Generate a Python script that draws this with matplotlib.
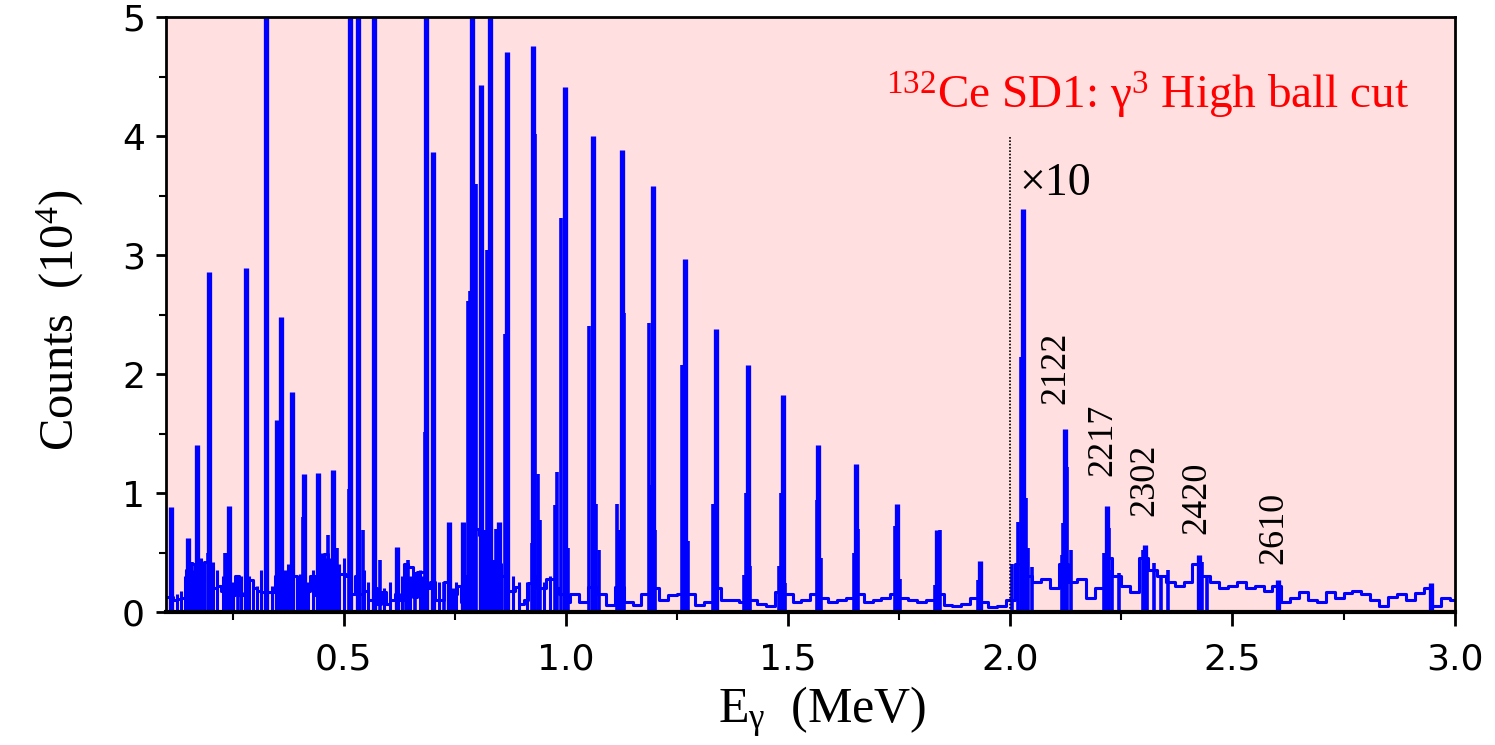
import matplotlib
matplotlib.use("Agg")
import matplotlib.pyplot as plt
from matplotlib.ticker import MultipleLocator

plt.rcParams['mathtext.default'] = 'regular'

# 132Ce SD1 gamma spectrum, counts in units of 1e4 (above 2.0 MeV shown x10)
# background continuum (read every 0.01 MeV below 1 MeV, 0.02 MeV above)
bg_E = [0.10, 0.11, 0.12, 0.13, 0.14, 0.15, 0.16, 0.17, 0.18, 0.19,
        0.20, 0.21, 0.22, 0.23, 0.24, 0.25, 0.26, 0.27, 0.28, 0.29,
        0.30, 0.31, 0.32, 0.33, 0.34, 0.35, 0.36, 0.37, 0.38, 0.39,
        0.40, 0.41, 0.42, 0.43, 0.44, 0.45, 0.46, 0.47, 0.48, 0.49,
        0.50, 0.51, 0.52, 0.53, 0.54, 0.55, 0.56, 0.57, 0.58, 0.59,
        0.60, 0.61, 0.62, 0.63, 0.64, 0.65, 0.66, 0.67, 0.68, 0.69,
        0.70, 0.71, 0.72, 0.73, 0.74, 0.75, 0.76, 0.77, 0.78, 0.79,
        0.80, 0.81, 0.82, 0.83, 0.84, 0.85, 0.86, 0.87, 0.88, 0.89,
        0.90, 0.91, 0.92, 0.93, 0.94, 0.95, 0.96, 0.97, 0.98, 0.99,
        1.00, 1.02, 1.04, 1.06, 1.08, 1.10, 1.12, 1.14, 1.16, 1.18,
        1.20, 1.22, 1.24, 1.26, 1.28, 1.30, 1.32, 1.34, 1.36, 1.38,
        1.40, 1.42, 1.44, 1.46, 1.48, 1.50, 1.52, 1.54, 1.56, 1.58,
        1.60, 1.62, 1.64, 1.66, 1.68, 1.70, 1.72, 1.74, 1.76, 1.78,
        1.80, 1.82, 1.84, 1.86, 1.88, 1.90, 1.92, 1.94, 1.96, 1.98,
        2.00, 2.02, 2.04, 2.06, 2.08, 2.10, 2.12, 2.14, 2.16, 2.18,
        2.20, 2.22, 2.24, 2.26, 2.28, 2.30, 2.32, 2.34, 2.36, 2.38,
        2.40, 2.42, 2.44, 2.46, 2.48, 2.50, 2.52, 2.54, 2.56, 2.58,
        2.60, 2.62, 2.64, 2.66, 2.68, 2.70, 2.72, 2.74, 2.76, 2.78,
        2.80, 2.82, 2.84, 2.86, 2.88, 2.90, 2.92, 2.94, 2.96, 2.98,
        3.00]
bg_H = [0.13, 0.13, 0.10, 0.11, 0.12, 0.35, 0.40, 0.24, 0.25, 0.42,
        0.38, 0.20, 0.22, 0.18, 0.15, 0.14, 0.30, 0.14, 0.16, 0.27,
        0.20, 0.18, 0.17, 0.17, 0.17, 0.30, 0.22, 0.34, 0.34, 0.30,
        0.27, 0.18, 0.18, 0.30, 0.14, 0.14, 0.49, 0.40, 0.32, 0.32,
        0.32, 0.30, 0.15, 0.30, 0.15, 0.18, 0.10, 0.20, 0.07, 0.17,
        0.07, 0.10, 0.15, 0.10, 0.40, 0.38, 0.13, 0.34, 0.34, 0.20,
        0.25, 0.10, 0.10, 0.25, 0.07, 0.15, 0.22, 0.08, 0.30, 0.60,
        0.70, 0.65, 0.50, 0.10, 0.43, 0.40, 0.30, 0.18, 0.18, 0.21,
        0.07, 0.10, 0.24, 0.30, 0.20, 0.20, 0.28, 0.28, 0.20, 0.15,
        0.08, 0.15, 0.08, 0.21, 0.15, 0.06, 0.21, 0.08, 0.06, 0.15,
        0.20, 0.10, 0.14, 0.15, 0.15, 0.06, 0.08, 0.20, 0.10, 0.10,
        0.08, 0.10, 0.07, 0.05, 0.17, 0.15, 0.08, 0.10, 0.15, 0.12,
        0.08, 0.10, 0.12, 0.15, 0.08, 0.10, 0.12, 0.15, 0.12, 0.10,
        0.08, 0.10, 0.15, 0.06, 0.05, 0.07, 0.12, 0.08, 0.04, 0.05,
        0.10, 0.40, 0.30, 0.25, 0.28, 0.20, 0.40, 0.25, 0.28, 0.12,
        0.20, 0.45, 0.30, 0.22, 0.17, 0.45, 0.35, 0.30, 0.25, 0.22,
        0.25, 0.40, 0.30, 0.25, 0.20, 0.22, 0.25, 0.20, 0.22, 0.18,
        0.22, 0.08, 0.12, 0.17, 0.10, 0.08, 0.17, 0.12, 0.16, 0.18,
        0.15, 0.10, 0.05, 0.13, 0.15, 0.10, 0.16, 0.20, 0.05, 0.12,
        0.10]

# main gamma lines (6.0 = off scale)
peak_E = [0.111, 0.150, 0.170, 0.197, 0.242, 0.280, 0.325, 0.350, 0.359, 0.383,
          0.410, 0.442, 0.475, 0.514, 0.532, 0.568, 0.620, 0.685, 0.700, 0.736,
          0.768, 0.788, 0.808, 0.830, 0.849, 0.867, 0.927, 0.997, 1.062, 1.127,
          1.197, 1.267, 1.337, 1.410, 1.489, 1.568, 1.653, 1.746, 1.835, 1.932,
          2.029, 2.123, 2.218, 2.303, 2.425, 2.602, 2.946]
peak_H = [0.88, 0.62, 1.40, 2.86, 0.89, 2.89, 6.0, 1.61, 2.48, 1.85,
          1.16, 1.17, 1.19, 6.0, 6.0, 6.0, 0.55, 6.0, 3.87, 0.76,
          0.76, 6.0, 4.43, 6.0, 0.76, 4.71, 4.76, 4.41, 4.00, 3.88,
          3.58, 2.97, 2.38, 2.08, 1.82, 1.40, 1.24, 0.91, 0.69, 0.43,
          3.39, 1.54, 0.89, 0.56, 0.48, 0.27, 0.24]

# neighbouring bins / shoulders of the lines
side_E = [0.152, 0.158, 0.195, 0.233, 0.238, 0.262, 0.327, 0.408, 0.412, 0.465,
          0.477, 0.485, 0.512, 0.516, 0.534, 0.543, 0.570, 0.581, 0.640, 0.645,
          0.660, 0.683, 0.703, 0.725, 0.780, 0.785, 0.798, 0.812, 0.817, 0.823,
          0.843, 0.846, 0.862, 0.870, 0.923, 0.925, 0.931, 0.937, 0.942, 0.975,
          0.981, 0.990, 1.001, 1.004, 1.053, 1.068, 1.075, 1.115, 1.120, 1.130,
          1.187, 1.192, 1.200, 1.262, 1.270, 1.275, 1.331, 1.340, 1.400, 1.406,
          1.414, 1.479, 1.483, 1.493, 1.564, 1.573, 1.649, 1.658, 1.741, 1.751,
          1.830, 1.841, 1.927, 2.004, 2.018, 2.025, 2.036, 2.040, 2.049, 2.117,
          2.119, 2.128, 2.137, 2.212, 2.222, 2.229, 2.245, 2.298, 2.308, 2.323,
          2.339, 2.355, 2.432, 2.443]
side_H = [0.42, 0.42, 0.50, 0.50, 0.50, 0.30, 0.61, 0.80, 0.44, 0.65,
          0.92, 0.54, 1.03, 0.87, 2.10, 0.69, 0.91, 0.44, 0.39, 0.44,
          0.34, 1.51, 0.55, 0.25, 2.61, 2.70, 3.60, 2.89, 0.69, 3.04,
          0.70, 0.63, 2.34, 0.46, 0.58, 1.44, 4.02, 1.16, 0.77, 0.90,
          1.18, 3.31, 1.10, 0.54, 2.40, 0.91, 0.52, 0.91, 0.69, 2.51,
          2.43, 1.07, 0.69, 2.08, 2.96, 0.60, 0.91, 0.84, 0.31, 1.00,
          0.39, 0.39, 1.00, 0.24, 0.94, 0.45, 0.50, 0.70, 0.72, 0.28,
          0.23, 0.69, 0.27, 0.40, 0.76, 2.14, 0.96, 0.54, 0.38, 0.48,
          0.75, 1.22, 0.52, 0.50, 0.71, 0.35, 0.33, 0.52, 0.41, 0.41,
          0.30, 0.35, 0.42, 0.30]

# small fluctuations in the crowded low-energy part
noise_E = [0.125, 0.135, 0.143, 0.163, 0.178, 0.185, 0.205, 0.215, 0.228, 0.252,
           0.268, 0.288, 0.295, 0.305, 0.315, 0.338, 0.368, 0.375, 0.395, 0.402,
           0.420, 0.430, 0.452, 0.458, 0.470, 0.490, 0.500, 0.545, 0.555, 0.590,
           0.605, 0.632, 0.650, 0.672, 0.678, 0.715, 0.745, 0.752, 0.775, 0.838,
           0.855, 0.880, 0.895, 0.912, 0.950, 0.965]
noise_H = [0.15, 0.18, 0.30, 0.35, 0.45, 0.38, 0.42, 0.35, 0.30, 0.25,
           0.30, 0.30, 0.25, 0.22, 0.35, 0.22, 0.35, 0.40, 0.30, 0.32,
           0.25, 0.35, 0.50, 0.45, 0.45, 0.40, 0.45, 0.35, 0.25, 0.20,
           0.25, 0.30, 0.30, 0.35, 0.30, 0.25, 0.20, 0.25, 0.30, 0.40,
           0.35, 0.30, 0.25, 0.25, 0.25, 0.30]

line_labels = ['2122', '2217', '2302', '2420', '2610']
# label anchor points (E, counts) for the rotated energy labels
label_E = [2.103, 2.208, 2.302, 2.419, 2.593]
label_y = [2.05, 1.45, 1.11, 0.96, 0.71]

split_E = 2.0      # x10 scale change
split_top = 4.0

blue = '#0000ff'
pink = '#ffdfdf'
serif = 'Liberation Serif'

fig = plt.figure(figsize=(14.95, 7.45), dpi=100)
ax = fig.add_axes([0.111, 0.1785, 0.862, 0.7985])
ax.set_facecolor(pink)

ax.step(bg_E, bg_H, where='mid', color=blue, lw=2.2)
ax.vlines(noise_E, 0, noise_H, color=blue, lw=2.2)
ax.vlines(side_E, 0, side_H, color=blue, lw=2.6)
ax.vlines(peak_E, 0, peak_H, color=blue, lw=3.8)

ax.vlines(split_E, 0, split_top, colors='black', linestyles=(0, (1, 1)), lw=1.2)

ax.set_xlim(0.1, 3.0)
ax.set_ylim(0, 5)

ax.xaxis.set_major_locator(MultipleLocator(0.5))
ax.xaxis.set_minor_locator(MultipleLocator(0.25))
ax.yaxis.set_major_locator(MultipleLocator(1))
ax.yaxis.set_minor_locator(MultipleLocator(0.5))
ax.set_xticks([0.5, 1.0, 1.5, 2.0, 2.5, 3.0])
ax.set_xticklabels(['0.5', '1.0', '1.5', '2.0', '2.5', '3.0'])

ax.tick_params(axis='x', which='major', direction='out', length=10, width=2,
               pad=12, labelsize=26)
ax.tick_params(axis='x', which='minor', direction='out', length=6, width=1.5)
ax.tick_params(axis='y', which='major', direction='out', length=7, width=2,
               pad=8, labelsize=26)
ax.tick_params(axis='y', which='minor', direction='out', length=5, width=1.5)

for side in ['top', 'left', 'right']:
    ax.spines[side].set_linewidth(2)
ax.spines['bottom'].set_linewidth(3)

ax.set_xlabel(r'E$_{\gamma}$  (MeV)', family=serif, fontsize=36, va='center')
ax.xaxis.set_label_coords(0.509, -0.168)
ax.set_ylabel(r'Counts  (10$^{4}$)', family=serif, fontsize=35, va='center')
ax.yaxis.set_label_coords(-0.082, 0.49)

ax.text(2.31, 4.34, r'$^{132}$Ce SD1: γ$^{3}$ High ball cut', family=serif,
        fontsize=34, color='red', ha='center', va='center')
ax.text(2.02, 3.6, '×10', family=serif, fontsize=33, color='black',
        ha='left', va='center')

for txt, e, yy in zip(line_labels, label_E, label_y):
    ax.text(e, yy, txt, family=serif, fontsize=26, rotation=90,
            ha='center', va='center')

fig.savefig('out.png', dpi=100)
